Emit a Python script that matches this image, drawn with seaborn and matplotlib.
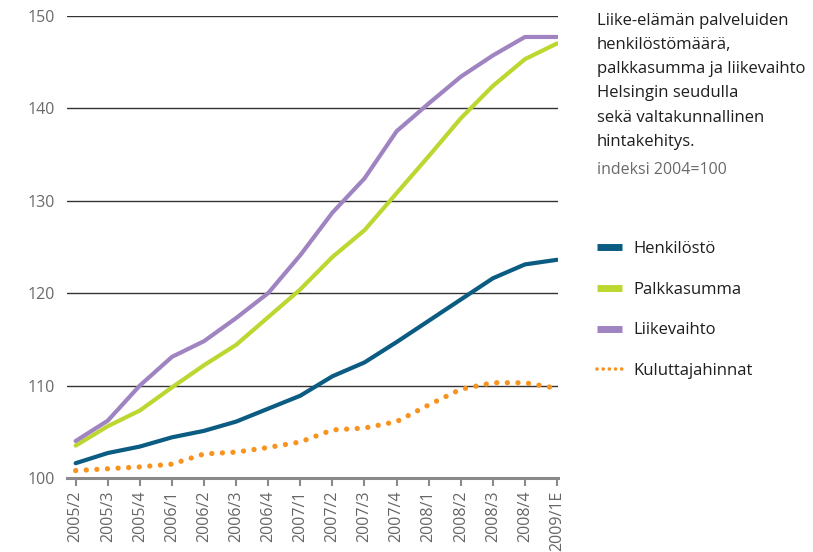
import matplotlib.pyplot as plt
import pandas as pd
import seaborn as sns
from matplotlib.lines import Line2D

quarters = ["2005/2", "2005/3", "2005/4", "2006/1", "2006/2", "2006/3", "2006/4",
            "2007/1", "2007/2", "2007/3", "2007/4", "2008/1", "2008/2", "2008/3",
            "2008/4", "2009/1E"]

henkilosto = [101.6, 102.7, 103.4, 104.4, 105.1, 106.1, 107.5, 108.9,
              111.0, 112.5, 114.7, 117.0, 119.3, 121.6, 123.1, 123.6]
palkkasumma = [103.5, 105.6, 107.3, 109.8, 112.2, 114.4, 117.4, 120.4,
               123.9, 126.8, 130.8, 134.8, 138.9, 142.4, 145.3, 147.0]
liikevaihto = [104.0, 106.2, 110.0, 113.1, 114.8, 117.3, 120.0, 124.1,
               128.7, 132.4, 137.5, 140.5, 143.4, 145.7, 147.7, 147.7]
kuluttajahinnat = [100.8, 101.0, 101.2, 101.5, 102.6, 102.8, 103.3, 103.9,
                   105.2, 105.4, 106.1, 107.9, 109.6, 110.3, 110.3, 109.7]

solid_names = ["Henkilöstö", "Palkkasumma", "Liikevaihto"]
dotted_name = "Kuluttajahinnat"
colors = {"Henkilöstö": "#0b5c82", "Palkkasumma": "#bdd630",
          "Liikevaihto": "#a084c2", "Kuluttajahinnat": "#f7931e"}

title = ("Liike-elämän palveluiden\nhenkilöstömäärä,\npalkkasumma ja liikevaihto\n"
         "Helsingin seudulla\nsekä valtakunnallinen\nhintakehitys.")
subtitle = "indeksi 2004=100"


def main():
    sns.set_theme(style="white")
    plt.rcParams["font.family"] = ["Open Sans", "DejaVu Sans"]

    df = pd.DataFrame({"quarter": quarters, "Henkilöstö": henkilosto,
                       "Palkkasumma": palkkasumma, "Liikevaihto": liikevaihto,
                       "Kuluttajahinnat": kuluttajahinnat})
    df["pos"] = range(len(quarters))
    long = df.melt(id_vars=["quarter", "pos"], var_name="series", value_name="value")

    fig = plt.figure(figsize=(8.13, 5.52), dpi=100)
    ax = fig.add_axes([67 / 813, 1 - 478 / 552, (558 - 67) / 813, (478 - 15.7) / 552])

    sns.lineplot(data=long[long.series.isin(solid_names)], x="pos", y="value",
                 hue="series", hue_order=solid_names, palette=colors,
                 linewidth=3, legend=False, ax=ax)
    sns.lineplot(data=long[long.series == dotted_name], x="pos", y="value",
                 color=colors[dotted_name], linewidth=3.8,
                 linestyle=(0, (0.01, 2.0)), dash_capstyle="round",
                 legend=False, ax=ax)

    ax.set_xlim(-0.27, 15.03)
    ax.set_ylim(100, 150)
    ax.set_xticks(range(len(quarters)))
    ax.set_xticklabels(quarters, rotation=90)
    ax.set_yticks([100, 110, 120, 130, 140, 150])
    ax.set_xlabel("")
    ax.set_ylabel("")

    ax.yaxis.grid(True, color="#333333", linewidth=1)
    ax.xaxis.grid(False)
    ax.set_axisbelow(True)
    for side in ["left", "right", "top"]:
        ax.spines[side].set_visible(False)
    ax.spines["bottom"].set_color("#8a8a8a")
    ax.spines["bottom"].set_linewidth(2.2)

    ax.tick_params(axis="x", bottom=True, direction="out", length=6, width=1.5,
                   color="#8a8a8a", labelsize=11.5, labelcolor="#666666", pad=3)
    ax.tick_params(axis="y", left=False, length=0, labelsize=11.5,
                   labelcolor="#6a6a6a", pad=9)

    fig.text(597 / 813, 1 - 13 / 552, title, ha="left", va="top", fontsize=12,
             linespacing=1.68, color="#1e1e1e")
    fig.text(597 / 813, 1 - 162 / 552, subtitle, ha="left", va="top",
             fontsize=11.5, color="#6a6a6a")

    handles = [Line2D([], [], color=colors[n], linewidth=5, solid_capstyle="butt")
               for n in solid_names]
    handles.append(Line2D([], [], color=colors[dotted_name], linewidth=2.6,
                          linestyle=(0, (0.01, 1.7)), dash_capstyle="round"))
    fig.legend(handles, solid_names + [dotted_name], loc="upper left",
               bbox_to_anchor=(597 / 813, 1 - 241 / 552), frameon=False,
               fontsize=12, handlelength=1.5, handletextpad=0.7,
               labelspacing=1.48, borderpad=0, borderaxespad=0,
               labelcolor="#1e1e1e")

    plt.savefig("out.png", dpi=100)
    plt.close()


if __name__ == '__main__':
    main()
